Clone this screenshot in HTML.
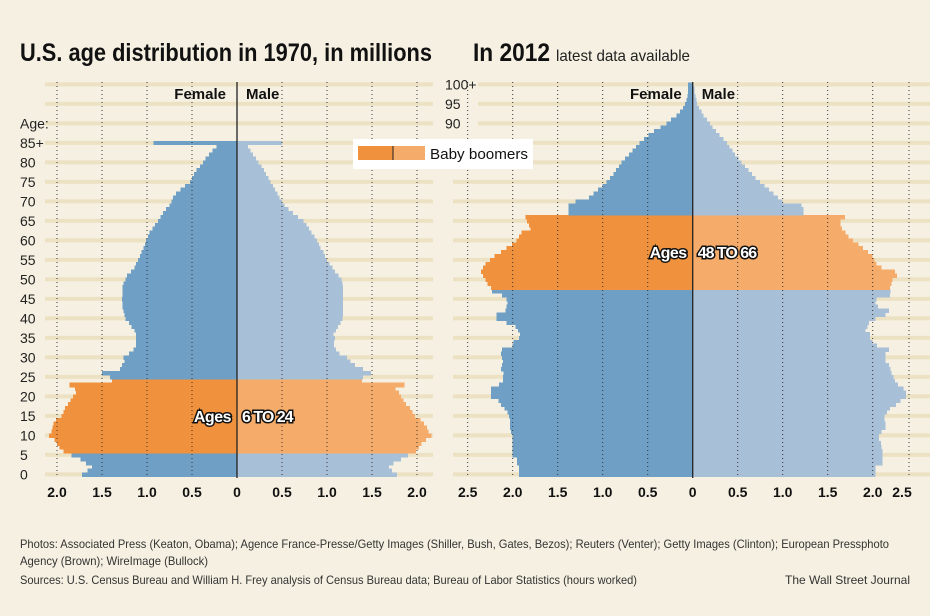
<!DOCTYPE html>
<html><head><meta charset="utf-8"><style>
html,body{margin:0;padding:0;background:#f5f0e1;}
svg{display:block;font-family:"Liberation Sans",sans-serif;}
#bars rect{shape-rendering:crispEdges;}
</style></head><body>
<svg id="chart" width="930" height="616" viewBox="0 0 930 616" xmlns="http://www.w3.org/2000/svg">
<rect x="0" y="0" width="930" height="616" fill="#f5f0e1"/>
<text x="20" y="61" font-size="25" font-weight="bold" fill="#111" textLength="412" lengthAdjust="spacingAndGlyphs">U.S. age distribution in 1970, in millions</text>
<text x="473" y="61" font-size="25" font-weight="bold" fill="#111" textLength="77" lengthAdjust="spacingAndGlyphs">In 2012</text>
<text x="556" y="61" font-size="16" fill="#222" textLength="134" lengthAdjust="spacingAndGlyphs">latest data available</text>
<g id="stripes"></g>
<g id="bars"></g>
<g id="grid"></g>
<g id="labels"></g>
<text x="20" y="548" font-size="12" fill="#333" textLength="869" lengthAdjust="spacingAndGlyphs">Photos: Associated Press (Keaton, Obama); Agence France-Presse/Getty Images (Shiller, Bush, Gates, Bezos); Reuters (Venter); Getty Images (Clinton); European Pressphoto</text>
<text x="20" y="565" font-size="12" fill="#333" textLength="188" lengthAdjust="spacingAndGlyphs">Agency (Brown); WireImage (Bullock)</text>
<text x="20" y="584" font-size="12" fill="#333" textLength="617" lengthAdjust="spacingAndGlyphs">Sources: U.S. Census Bureau and William H. Frey analysis of Census Bureau data; Bureau of Labor Statistics (hours worked)</text>
<text x="910" y="584" font-size="12" fill="#333" text-anchor="end">The Wall Street Journal</text>
</svg>
<script>
const female1970 = [1.72,1.66,1.61,1.68,1.74,1.84,1.93,1.97,2.0,2.03,2.09,2.06,2.05,2.04,2.01,1.95,1.93,1.91,1.88,1.85,1.82,1.79,1.80,1.86,1.39,1.41,1.50,1.30,1.28,1.25,1.26,1.20,1.15,1.12,1.12,1.12,1.12,1.14,1.17,1.20,1.24,1.25,1.26,1.27,1.27,1.28,1.27,1.27,1.27,1.26,1.24,1.22,1.18,1.14,1.12,1.10,1.08,1.06,1.04,1.02,1.01,0.99,0.97,0.94,0.91,0.88,0.85,0.82,0.79,0.75,0.73,0.71,0.68,0.63,0.58,0.52,0.50,0.48,0.45,0.41,0.38,0.35,0.31,0.27,0.23,0.93];
const male1970 = [1.78,1.72,1.69,1.74,1.82,1.90,1.99,2.02,2.05,2.10,2.16,2.13,2.11,2.08,2.04,1.98,1.95,1.92,1.88,1.85,1.82,1.80,1.76,1.86,1.39,1.40,1.49,1.40,1.31,1.26,1.22,1.14,1.10,1.08,1.08,1.09,1.07,1.10,1.12,1.15,1.17,1.18,1.18,1.18,1.18,1.18,1.18,1.18,1.18,1.17,1.16,1.13,1.09,1.06,1.03,1.00,0.98,0.96,0.93,0.91,0.89,0.86,0.83,0.80,0.77,0.74,0.68,0.62,0.57,0.53,0.50,0.47,0.45,0.42,0.40,0.37,0.35,0.32,0.30,0.27,0.24,0.21,0.18,0.15,0.12,0.50];
const female2012 = [1.93,1.93,1.93,1.95,1.95,2.0,2.0,2.0,2.0,2.0,2.0,2.02,2.03,2.03,2.03,2.04,2.06,2.09,2.13,2.16,2.24,2.24,2.24,2.15,2.11,2.11,2.10,2.13,2.12,2.11,2.12,2.13,2.12,2.0,1.99,1.93,1.92,1.94,1.97,2.07,2.18,2.18,2.08,2.07,2.06,2.07,2.12,2.23,2.24,2.28,2.30,2.33,2.35,2.33,2.30,2.25,2.20,2.13,2.07,2.01,1.96,1.93,1.90,1.80,1.82,1.84,1.86,1.38,1.38,1.38,1.30,1.15,1.10,1.05,1.0,0.96,0.92,0.88,0.85,0.82,0.79,0.75,0.71,0.67,0.63,0.59,0.54,0.49,0.43,0.36,0.29,0.24,0.18,0.14,0.11,0.085,0.07,0.06,0.05,0.05,0.05];
const male2012 = [2.03,2.03,2.03,2.11,2.11,2.11,2.11,2.10,2.09,2.07,2.07,2.10,2.14,2.14,2.13,2.13,2.16,2.19,2.26,2.31,2.37,2.37,2.34,2.28,2.25,2.23,2.21,2.20,2.18,2.14,2.14,2.14,2.18,2.05,2.0,1.97,1.97,1.92,1.94,1.96,2.03,2.14,2.18,2.06,2.03,2.04,2.19,2.20,2.19,2.21,2.22,2.27,2.25,2.10,2.04,2.02,2.0,1.95,1.89,1.84,1.78,1.73,1.70,1.66,1.64,1.64,1.69,1.23,1.23,1.21,1.0,0.95,0.90,0.85,0.80,0.75,0.70,0.66,0.62,0.58,0.54,0.51,0.47,0.44,0.41,0.38,0.34,0.30,0.26,0.22,0.19,0.16,0.12,0.10,0.07,0.05,0.04,0.03,0.02,0.02,0.01];
const boomers1970 = [6, 24];
const boomers2012 = [48, 66];
const xTicks1970 = ["2.0","1.5","1.0","0.5","0","0.5","1.0","1.5","2.0"];
const xTickVals1970 = [-2,-1.5,-1,-0.5,0,0.5,1,1.5,2];
const xTicks2012 = ["2.5","2.0","1.5","1.0","0.5","0","0.5","1.0","1.5","2.0","2.5"];
const xTickVals2012 = [-2.5,-2,-1.5,-1,-0.5,0,0.5,1,1.5,2,2.5];
const ageTicks1970 = ["0","5","10","15","20","25","30","35","40","45","50","55","60","65","70","75","80","85+"];
const ageTicks2012 = ["90","95","100+"];

const NS = "http://www.w3.org/2000/svg";
const SCALE = 90;
function mk(tag, parent, attrs){const e=document.createElementNS(NS,tag);for(const k in attrs)e.setAttribute(k,attrs[k]);parent.appendChild(e);return e;}
function yAge(a){return 476.3 - (a+1)*3.9;}
function yMid(a){return 474.35 - a*3.9;}
const stripesG=document.getElementById('stripes'), barsG=document.getElementById('bars'), gridG=document.getElementById('grid'), labelsG=document.getElementById('labels');

function panel(cx, fem, mal, boom, id){
  const xS = v => cx + v*SCALE;
  for(let a=0;a<fem.length;a++){
    const inB = a>=boom[0] && a<=boom[1];
    const h = a===fem.length-1 ? 3.9 : 4.6;
    let r=mk('rect',barsG,{x:xS(-fem[a]),y:yAge(a),width:fem[a]*SCALE,height:h,fill:inB?'#f0923d':'#6f9fc4'});
    
    
    r=mk('rect',barsG,{x:cx,y:yAge(a),width:mal[a]*SCALE,height:h,fill:inB?'#f5ab69':'#a8bfd8'});
    
    
  }
  const ln=mk('line',gridG,{x1:cx,x2:cx,y1:82,y2:478,stroke:'#222','stroke-width':1.3});
  
  
  const bm=(boom[0]+boom[1])/2;
  const lab1=mk('text',labelsG,{x:cx-6,y:yMid(bm)+6,'font-size':16,'font-weight':'bold','text-anchor':'end',fill:'#fff',stroke:'#111','stroke-width':3,'paint-order':'stroke','letter-spacing':'-0.5'});
  lab1.textContent='Ages';
  
  
  const lab2=mk('text',labelsG,{x:cx+5,y:yMid(bm)+6,'font-size':16,'font-weight':'bold',fill:'#fff',stroke:'#111','stroke-width':3,'paint-order':'stroke','letter-spacing':'-1'});
  lab2.textContent=boom[0]+' TO '+boom[1];
  
  
  const f=mk('text',labelsG,{x:cx-11,y:99,'font-size':15,'font-weight':'bold','text-anchor':'end',fill:'#111'});
  f.textContent='Female';
  
  
  const m=mk('text',labelsG,{x:cx+9,y:99,'font-size':15,'font-weight':'bold',fill:'#111'});
  m.textContent='Male';
  
  
}

for(let a=0;a<=100;a+=5){
  let s=mk('rect',stripesG,{x:45,y:yMid(a)-2,width:388,height:4,fill:'#ede1c4'});
  
  
  s=mk('rect',stripesG,{x:a>=90?478:453,y:yMid(a)-2,width:930-(a>=90?478:453),height:4,fill:'#ede1c4'});
  
  
}

panel(237, female1970, male1970, boomers1970, 'p1970');
panel(692.7, female2012, male2012, boomers2012, 'p2012');

xTickVals1970.forEach((v,i)=>{
  const x=237+v*SCALE;
  if(v!==0){const g=mk('line',gridG,{x1:x,x2:x,y1:82,y2:478,stroke:'#333','stroke-width':1,'stroke-dasharray':'1 3'});
  
  }
  const t=mk('text',labelsG,{x:x,y:497,'font-size':14,'font-weight':'bold','text-anchor':'middle',fill:'#111'});
  t.textContent=xTicks1970[i];
  
  
});
xTickVals2012.forEach((v,i)=>{
  let x=692.7+v*SCALE, lx=x;
  if(v===2.5){x=909;lx=902;}
  if(v!==0){const g=mk('line',gridG,{x1:x,x2:x,y1:82,y2:478,stroke:'#333','stroke-width':1,'stroke-dasharray':'1 3'});
  
  }
  const t=mk('text',labelsG,{x:lx,y:497,'font-size':14,'font-weight':'bold','text-anchor':'middle',fill:'#111'});
  t.textContent=xTicks2012[i];
  
  
});
ageTicks1970.forEach((l,i)=>{
  const t=mk('text',labelsG,{x:20,y:yMid(i*5)+5,'font-size':14,fill:'#222'});
  t.textContent=l;
  
  
});
const ageT=mk('text',labelsG,{x:20,y:yMid(90)+5,'font-size':14,fill:'#222'});
ageT.textContent='Age:';


ageTicks2012.forEach((l,i)=>{
  const t=mk('text',labelsG,{x:445,y:yMid(90+i*5)+5,'font-size':14,fill:'#222'});
  t.textContent=l;
  
  
});

const lg=mk('g',labelsG,{});


mk('rect',lg,{x:353,y:139,width:180,height:30,fill:'#fff'});
const sw1=mk('rect',lg,{x:358,y:146,width:35,height:14,fill:'#f0923d'});


const sw2=mk('rect',lg,{x:393,y:146,width:32,height:14,fill:'#f5ab69'});


mk('line',lg,{x1:393,x2:393,y1:146,y2:160,stroke:'#222','stroke-width':1});
const lt=mk('text',lg,{x:430,y:159,'font-size':15,fill:'#111',textLength:98,lengthAdjust:'spacingAndGlyphs'});
lt.textContent='Baby boomers';


</script>
</body></html>
